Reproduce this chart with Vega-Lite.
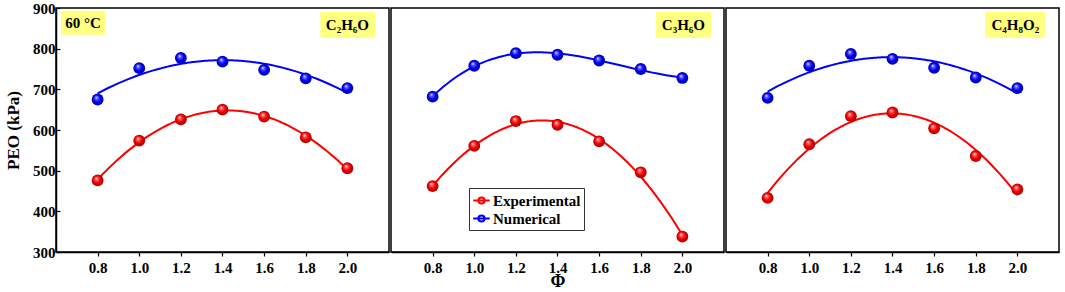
{
  "$schema": "https://vega.github.io/schema/vega-lite/v6.json",
  "padding": {"left": 3, "top": 0, "right": 2, "bottom": 0},
  "background": "white",
  "datasets": {
    "pts": [
      {"panel": "p1", "series": "Numerical", "phi": 0.8, "peo": 675},
      {"panel": "p1", "series": "Numerical", "phi": 1.0, "peo": 752},
      {"panel": "p1", "series": "Numerical", "phi": 1.2, "peo": 777},
      {"panel": "p1", "series": "Numerical", "phi": 1.4, "peo": 768},
      {"panel": "p1", "series": "Numerical", "phi": 1.6, "peo": 748},
      {"panel": "p1", "series": "Numerical", "phi": 1.8, "peo": 727},
      {"panel": "p1", "series": "Numerical", "phi": 2.0, "peo": 703},
      {"panel": "p1", "series": "Experimental", "phi": 0.8, "peo": 476},
      {"panel": "p1", "series": "Experimental", "phi": 1.0, "peo": 574},
      {"panel": "p1", "series": "Experimental", "phi": 1.2, "peo": 626},
      {"panel": "p1", "series": "Experimental", "phi": 1.4, "peo": 650},
      {"panel": "p1", "series": "Experimental", "phi": 1.6, "peo": 633},
      {"panel": "p1", "series": "Experimental", "phi": 1.8, "peo": 582},
      {"panel": "p1", "series": "Experimental", "phi": 2.0, "peo": 506},
      {"panel": "p2", "series": "Numerical", "phi": 0.8, "peo": 682},
      {"panel": "p2", "series": "Numerical", "phi": 1.0, "peo": 758},
      {"panel": "p2", "series": "Numerical", "phi": 1.2, "peo": 789},
      {"panel": "p2", "series": "Numerical", "phi": 1.4, "peo": 785},
      {"panel": "p2", "series": "Numerical", "phi": 1.6, "peo": 771},
      {"panel": "p2", "series": "Numerical", "phi": 1.8, "peo": 750},
      {"panel": "p2", "series": "Numerical", "phi": 2.0, "peo": 728},
      {"panel": "p2", "series": "Experimental", "phi": 0.8, "peo": 462},
      {"panel": "p2", "series": "Experimental", "phi": 1.0, "peo": 561},
      {"panel": "p2", "series": "Experimental", "phi": 1.2, "peo": 622},
      {"panel": "p2", "series": "Experimental", "phi": 1.4, "peo": 613},
      {"panel": "p2", "series": "Experimental", "phi": 1.6, "peo": 572},
      {"panel": "p2", "series": "Experimental", "phi": 1.8, "peo": 496},
      {"panel": "p2", "series": "Experimental", "phi": 2.0, "peo": 338},
      {"panel": "p3", "series": "Numerical", "phi": 0.8, "peo": 679},
      {"panel": "p3", "series": "Numerical", "phi": 1.0, "peo": 758},
      {"panel": "p3", "series": "Numerical", "phi": 1.2, "peo": 787},
      {"panel": "p3", "series": "Numerical", "phi": 1.4, "peo": 775},
      {"panel": "p3", "series": "Numerical", "phi": 1.6, "peo": 753},
      {"panel": "p3", "series": "Numerical", "phi": 1.8, "peo": 729},
      {"panel": "p3", "series": "Numerical", "phi": 2.0, "peo": 703},
      {"panel": "p3", "series": "Experimental", "phi": 0.8, "peo": 433},
      {"panel": "p3", "series": "Experimental", "phi": 1.0, "peo": 565},
      {"panel": "p3", "series": "Experimental", "phi": 1.2, "peo": 634},
      {"panel": "p3", "series": "Experimental", "phi": 1.4, "peo": 643},
      {"panel": "p3", "series": "Experimental", "phi": 1.6, "peo": 604},
      {"panel": "p3", "series": "Experimental", "phi": 1.8, "peo": 536},
      {"panel": "p3", "series": "Experimental", "phi": 2.0, "peo": 454}
    ],
    "ann": [
      {"panel": "p1", "label": "60 °C", "x1": 0.624, "x2": 0.836, "xm": 0.73, "y1": 893, "y2": 834, "ym": 863},
      {"panel": "p1", "label": "C₂H₆O", "x1": 1.87, "x2": 2.135, "xm": 2.0, "y1": 890, "y2": 826, "ym": 858},
      {"panel": "p2", "label": "C₃H₆O", "x1": 1.874, "x2": 2.138, "xm": 2.005, "y1": 890, "y2": 826, "ym": 858},
      {"panel": "p3", "label": "C₄H₈O₂", "x1": 1.845, "x2": 2.134, "xm": 1.99, "y1": 890, "y2": 826, "ym": 858}
    ]
  },
  "hconcat": [
    {
      "width": 333, "height": 244,
      "layer": [
        {
          "data": {"name": "ann"},
          "transform": [{"filter": "datum.panel === 'p1'"}],
          "mark": {"type": "rect", "fill": "#ffff80"},
          "encoding": {
            "x": {"field": "x1", "type": "quantitative", "scale": {"domain": [0.6, 2.2], "nice": false, "zero": false},
              "axis": {"values": [0.8, 1.0, 1.2, 1.4, 1.6, 1.8, 2.0], "format": ".1f", "title": null, "tickSize": 4, "labelPadding": 4, "labels": true, "labelOpacity": 1, "labelOverlap": false, "labelFlush": false, "labelFontSize": 15, "labelFont": "Liberation Serif", "labelFontWeight": "bold", "labelColor": "black"}},
            "x2": {"field": "x2"},
            "y": {"field": "y1", "type": "quantitative", "scale": {"domain": [300, 900], "nice": false, "zero": false},
              "axis": {"values": [300,350,400,450,500,550,600,650,700,750,800,850,900],
                "labelExpr": "datum.value % 100 == 0 ? datum.label : ''", "title": "PEO (kPa)", "tickSize": -4, "labelPadding": 5}},
            "y2": {"field": "y2"}
          }
        },
        {
          "data": {"name": "ann"},
          "transform": [{"filter": "datum.panel === 'p1'"}],
          "mark": {"type": "text", "font": "Liberation Serif", "fontWeight": "bold", "fontSize": 15, "align": "center", "baseline": "middle", "color": "black"},
          "encoding": {
            "x": {"field": "xm", "type": "quantitative"},
            "y": {"field": "ym", "type": "quantitative"},
            "text": {"field": "label"}
          }
        },
        {
          "data": {"name": "pts"},
          "transform": [{"filter": "datum.panel === 'p1'"}, {"regression": "peo", "on": "phi", "groupby": ["series"], "method": "poly", "order": 2, "extent": [0.8, 2.0]}],
          "mark": {"type": "line", "strokeWidth": 2},
          "encoding": {
            "x": {"field": "phi", "type": "quantitative"},
            "y": {"field": "peo", "type": "quantitative"},
            "color": {"field": "series", "type": "nominal", "scale": {"domain": ["Experimental", "Numerical"], "range": ["#ff0000", "#0000ff"]}, "legend": null}
          }
        },
        {
          "data": {"name": "pts"},
          "transform": [{"filter": "datum.panel === 'p1'"}],
          "mark": {"type": "point", "filled": true, "size": 140, "opacity": 1, "strokeWidth": 0},
          "encoding": {
            "x": {"field": "phi", "type": "quantitative"},
            "y": {"field": "peo", "type": "quantitative"},
            "fill": {
              "condition": {"test": "datum.series === 'Experimental'", "value": {"gradient": "radial", "x1": 0.38, "y1": 0.32, "r1": 0, "x2": 0.5, "y2": 0.5, "r2": 0.55, "stops": [{"offset": 0, "color": "#ffffff"}, {"offset": 0.22, "color": "#ff6060"}, {"offset": 0.55, "color": "#ee0000"}, {"offset": 1, "color": "#a00000"}]}},
              "value": {"gradient": "radial", "x1": 0.38, "y1": 0.32, "r1": 0, "x2": 0.5, "y2": 0.5, "r2": 0.55, "stops": [{"offset": 0, "color": "#ffffff"}, {"offset": 0.22, "color": "#6060ff"}, {"offset": 0.55, "color": "#0000ee"}, {"offset": 1, "color": "#0000a0"}]}
            }
          }
        }
      ]
    },
    {
      "width": 333, "height": 244,
      "layer": [
        {
          "data": {"name": "ann"},
          "transform": [{"filter": "datum.panel === 'p2'"}],
          "mark": {"type": "rect", "fill": "#ffff80"},
          "encoding": {
            "x": {"field": "x1", "type": "quantitative", "scale": {"domain": [0.6, 2.2], "nice": false, "zero": false},
              "axis": {"values": [0.8, 1.0, 1.2, 1.4, 1.6, 1.8, 2.0], "format": ".1f", "title": "Φ", "titleFontSize": 18, "titlePadding": -3, "tickSize": 4, "labelPadding": 4, "labels": true, "labelOpacity": 1, "labelOverlap": false, "labelFlush": false, "labelFontSize": 15, "labelFont": "Liberation Serif", "labelFontWeight": "bold", "labelColor": "black"}},
            "x2": {"field": "x2"},
            "y": {"field": "y1", "type": "quantitative", "scale": {"domain": [300, 900], "nice": false, "zero": false}, "axis": null},
            "y2": {"field": "y2"}
          }
        },
        {
          "data": {"name": "ann"},
          "transform": [{"filter": "datum.panel === 'p2'"}],
          "mark": {"type": "text", "font": "Liberation Serif", "fontWeight": "bold", "fontSize": 15, "align": "center", "baseline": "middle", "color": "black"},
          "encoding": {
            "x": {"field": "xm", "type": "quantitative"},
            "y": {"field": "ym", "type": "quantitative"},
            "text": {"field": "label"}
          }
        },
        {
          "data": {"name": "pts"},
          "transform": [{"filter": "datum.panel === 'p2'"}, {"regression": "peo", "on": "phi", "groupby": ["series"], "method": "poly", "order": 3, "extent": [0.8, 2.0]}],
          "mark": {"type": "line", "strokeWidth": 2},
          "encoding": {
            "x": {"field": "phi", "type": "quantitative"},
            "y": {"field": "peo", "type": "quantitative"},
            "color": {"field": "series", "type": "nominal", "scale": {"domain": ["Experimental", "Numerical"], "range": ["#ff0000", "#0000ff"]},
              "legend": {"orient": "none", "legendX": 78, "legendY": 180, "title": null, "strokeColor": "#333333", "fillColor": "white", "padding": 3,
                "symbolType": "M-1,0L1,0M0.37,0A0.37,0.37 0 1,1 -0.37,0A0.37,0.37 0 1,1 0.37,0Z",
                "symbolSize": 272, "symbolStrokeWidth": 2, "symbolOpacity": 1,
                "labelFont": "Liberation Serif", "labelFontWeight": "bold", "labelFontSize": 15, "labelColor": "black", "labelOffset": 2, "rowPadding": 0}}
          }
        },
        {
          "data": {"name": "pts"},
          "transform": [{"filter": "datum.panel === 'p2'"}],
          "mark": {"type": "point", "filled": true, "size": 140, "opacity": 1, "strokeWidth": 0},
          "encoding": {
            "x": {"field": "phi", "type": "quantitative"},
            "y": {"field": "peo", "type": "quantitative"},
            "fill": {
              "condition": {"test": "datum.series === 'Experimental'", "value": {"gradient": "radial", "x1": 0.38, "y1": 0.32, "r1": 0, "x2": 0.5, "y2": 0.5, "r2": 0.55, "stops": [{"offset": 0, "color": "#ffffff"}, {"offset": 0.22, "color": "#ff6060"}, {"offset": 0.55, "color": "#ee0000"}, {"offset": 1, "color": "#a00000"}]}},
              "value": {"gradient": "radial", "x1": 0.38, "y1": 0.32, "r1": 0, "x2": 0.5, "y2": 0.5, "r2": 0.55, "stops": [{"offset": 0, "color": "#ffffff"}, {"offset": 0.22, "color": "#6060ff"}, {"offset": 0.55, "color": "#0000ee"}, {"offset": 1, "color": "#0000a0"}]}
            }
          }
        }
      ]
    },
    {
      "width": 333, "height": 244,
      "layer": [
        {
          "data": {"name": "ann"},
          "transform": [{"filter": "datum.panel === 'p3'"}],
          "mark": {"type": "rect", "fill": "#ffff80"},
          "encoding": {
            "x": {"field": "x1", "type": "quantitative", "scale": {"domain": [0.6, 2.2], "nice": false, "zero": false},
              "axis": {"values": [0.8, 1.0, 1.2, 1.4, 1.6, 1.8, 2.0], "format": ".1f", "title": null, "tickSize": 4, "labelPadding": 4, "labels": true, "labelOpacity": 1, "labelOverlap": false, "labelFlush": false, "labelFontSize": 15, "labelFont": "Liberation Serif", "labelFontWeight": "bold", "labelColor": "black"}},
            "x2": {"field": "x2"},
            "y": {"field": "y1", "type": "quantitative", "scale": {"domain": [300, 900], "nice": false, "zero": false}, "axis": null},
            "y2": {"field": "y2"}
          }
        },
        {
          "data": {"name": "ann"},
          "transform": [{"filter": "datum.panel === 'p3'"}],
          "mark": {"type": "text", "font": "Liberation Serif", "fontWeight": "bold", "fontSize": 15, "align": "center", "baseline": "middle", "color": "black"},
          "encoding": {
            "x": {"field": "xm", "type": "quantitative"},
            "y": {"field": "ym", "type": "quantitative"},
            "text": {"field": "label"}
          }
        },
        {
          "data": {"name": "pts"},
          "transform": [{"filter": "datum.panel === 'p3'"}, {"regression": "peo", "on": "phi", "groupby": ["series"], "method": "poly", "order": 2, "extent": [0.8, 2.0]}],
          "mark": {"type": "line", "strokeWidth": 2},
          "encoding": {
            "x": {"field": "phi", "type": "quantitative"},
            "y": {"field": "peo", "type": "quantitative"},
            "color": {"field": "series", "type": "nominal", "scale": {"domain": ["Experimental", "Numerical"], "range": ["#ff0000", "#0000ff"]}, "legend": null}
          }
        },
        {
          "data": {"name": "pts"},
          "transform": [{"filter": "datum.panel === 'p3'"}],
          "mark": {"type": "point", "filled": true, "size": 140, "opacity": 1, "strokeWidth": 0},
          "encoding": {
            "x": {"field": "phi", "type": "quantitative"},
            "y": {"field": "peo", "type": "quantitative"},
            "fill": {
              "condition": {"test": "datum.series === 'Experimental'", "value": {"gradient": "radial", "x1": 0.38, "y1": 0.32, "r1": 0, "x2": 0.5, "y2": 0.5, "r2": 0.55, "stops": [{"offset": 0, "color": "#ffffff"}, {"offset": 0.22, "color": "#ff6060"}, {"offset": 0.55, "color": "#ee0000"}, {"offset": 1, "color": "#a00000"}]}},
              "value": {"gradient": "radial", "x1": 0.38, "y1": 0.32, "r1": 0, "x2": 0.5, "y2": 0.5, "r2": 0.55, "stops": [{"offset": 0, "color": "#ffffff"}, {"offset": 0.22, "color": "#6060ff"}, {"offset": 0.55, "color": "#0000ee"}, {"offset": 1, "color": "#0000a0"}]}
            }
          }
        }
      ]
    }
  ],
  "resolve": {"legend": {"color": "independent"}, "scale": {"color": "independent"}},
  "spacing": 0,
  "config": {
    "view": {"stroke": "black", "strokeWidth": 1.5},
    "axis": {
      "domainColor": "black", "domainWidth": 1.5, "tickColor": "black", "tickWidth": 1.2,
      "labelFont": "Liberation Serif", "labelFontWeight": "bold", "labelFontSize": 15, "labelColor": "black",
      "titleFont": "Liberation Serif", "titleFontWeight": "bold", "titleColor": "black", "grid": false
    },
    "axisY": {"titleFontSize": 17, "titlePadding": 10}
  }
}
